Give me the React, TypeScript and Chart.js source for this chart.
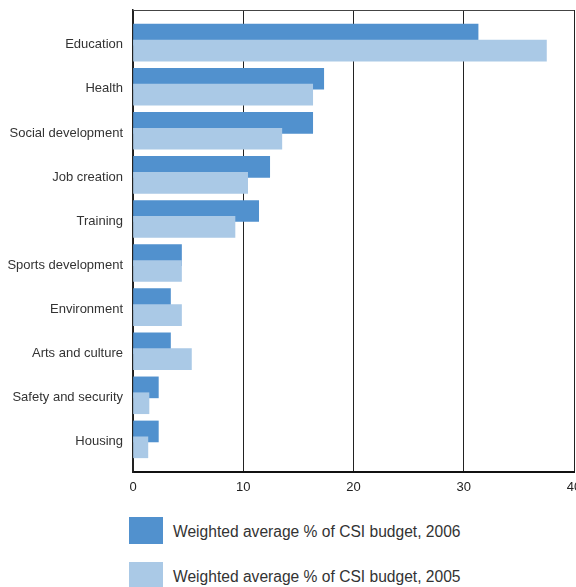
import React, { useEffect, useRef } from "react";
import { Chart, registerables } from "chart.js";

Chart.register(...registerables);

const categories = [
  "Education",
  "Health",
  "Social development",
  "Job creation",
  "Training",
  "Sports development",
  "Environment",
  "Arts and culture",
  "Safety and security",
  "Housing",
];
const values2006 = [31.3, 17.3, 16.3, 12.4, 11.4, 4.4, 3.4, 3.4, 2.3, 2.3];
const values2005 = [37.5, 16.3, 13.5, 10.4, 9.25, 4.4, 4.4, 5.3, 1.45, 1.35];
const xTicks = [0, 10, 20, 30, 40];
const seriesLabels = [
  "Weighted average % of CSI budget, 2006",
  "Weighted average % of CSI budget, 2005",
];
const seriesColors = ["#5191CE", "#AAC9E6"];

const FONT = "'Liberation Sans', Arial, Helvetica, sans-serif";
const Y_MIN = -0.74;
const Y_MAX = categories.length - 1 + 0.74;
const SHIFT = 0.18;

export default function App() {
  const ref = useRef<HTMLCanvasElement | null>(null);

  useEffect(() => {
    if (!ref.current) return;
    const borderPlugin = {
      id: "topRightBorder",
      afterDatasetsDraw(chart: any) {
        const { ctx, chartArea } = chart;
        ctx.save();
        ctx.strokeStyle = "#444";
        ctx.lineWidth = 1;
        ctx.beginPath();
        ctx.moveTo(chartArea.left, chartArea.top + 0.5);
        ctx.lineTo(chartArea.right, chartArea.top + 0.5);
        ctx.stroke();
        ctx.restore();
      },
    };
    const chart = new Chart(ref.current, {
      type: "bar",
      data: {
        datasets: [
          {
            label: seriesLabels[0],
            data: values2006.map((v, i) => ({ x: v, y: i })),
            backgroundColor: seriesColors[0],
            yAxisID: "y06",
            order: 2,
            barThickness: 21,
            grouped: false,
          },
          {
            label: seriesLabels[1],
            data: values2005.map((v, i) => ({ x: v, y: i })),
            backgroundColor: seriesColors[1],
            yAxisID: "y05",
            order: 1,
            barThickness: 21,
            grouped: false,
          },
        ] as any,
      },
      options: {
        indexAxis: "y",
        responsive: false,
        animation: false,
        devicePixelRatio: 1,
        layout: { padding: { top: 10, right: 2, left: 0, bottom: 0 } },
        plugins: { legend: { display: false }, tooltip: { enabled: false } },
        scales: {
          x: {
            type: "linear",
            min: 0,
            max: 40,
            offset: false,
            afterBuildTicks: (s: any) => {
              s.ticks = xTicks.map((v) => ({ value: v }));
            },
            afterFit: (s: any) => {
              s.height = 28;
              s.paddingLeft = 0;
              s.paddingRight = 0;
            },
            grid: { color: "#222", lineWidth: 1, drawTicks: false },
            border: { display: true, color: "#111", width: 2 },
            ticks: {
              padding: 8,
              color: "#222",
              font: { family: FONT, size: 13 },
              maxRotation: 0,
            },
          },
          y: {
            type: "linear",
            position: "left",
            reverse: true,
            offset: false,
            bounds: "data",
            min: Y_MIN - 0.05,
            max: Y_MAX - 0.05,
            afterBuildTicks: (s: any) => {
              s.ticks = categories.map((_, i) => ({ value: i }));
            },
            afterFit: (s: any) => {
              s.width = 133;
              s.paddingTop = 0;
              s.paddingBottom = 0;
            },
            grid: { display: false, drawTicks: false, offset: false },
            border: { display: true, color: "#222", width: 1.5 },
            ticks: {
              autoSkip: false,
              padding: 10,
              color: "#333",
              font: { family: FONT, size: 13 },
              callback: (v: any) => categories[Math.round(Number(v))] ?? "",
            },
          },
          y06: {
            type: "linear",
            display: false,
            reverse: true,
            offset: false,
            bounds: "data",
            min: Y_MIN + SHIFT,
            max: Y_MAX + SHIFT,
            grid: { offset: false },
          },
          y05: {
            type: "linear",
            display: false,
            reverse: true,
            offset: false,
            bounds: "data",
            min: Y_MIN - SHIFT,
            max: Y_MAX - SHIFT,
            grid: { offset: false },
          },
        },
      } as any,
      plugins: [borderPlugin],
    });
    return () => chart.destroy();
  }, []);

  return (
    <div
      style={{
        position: "absolute",
        left: 0,
        top: 0,
        width: 576,
        height: 587,
        overflow: "hidden",
        background: "#fff",
        fontFamily: FONT,
      }}
    >
      <canvas ref={ref} width={576} height={500} style={{ display: "block" }} />
      {seriesLabels.map((label, i) => (
        <div
          key={label}
          style={{
            position: "absolute",
            left: 129,
            top: 517 + i * 45,
            height: 27,
            display: "flex",
            alignItems: "center",
          }}
        >
          <div
            style={{
              width: 34,
              height: 27,
              background: seriesColors[i],
              flex: "none",
            }}
          />
          <span
            style={{
              marginLeft: 10,
              fontSize: 15.6,
              color: "#333",
              whiteSpace: "nowrap",
              position: "relative",
              top: 1,
            }}
          >
            {label}
          </span>
        </div>
      ))}
    </div>
  );
}
